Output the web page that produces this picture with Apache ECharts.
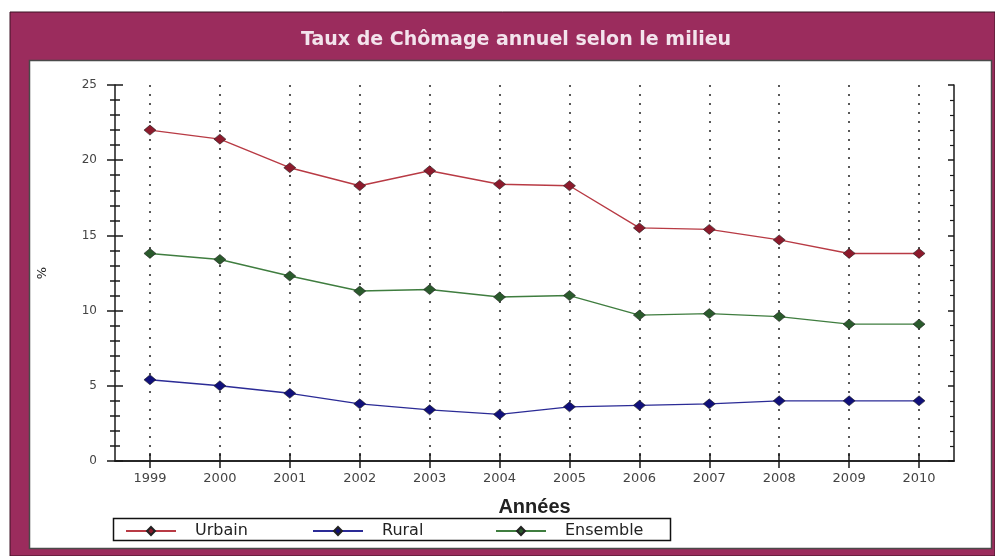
<!DOCTYPE html>
<html>
<head>
<meta charset="utf-8">
<script src="https://cdn.jsdelivr.net/npm/echarts@6/dist/echarts.min.js"></script>
<style>
  html, body { margin: 0; padding: 0; background: #ffffff; }
  #chart { width: 995px; height: 556px; }
</style>
</head>
<body>
<div id="chart"></div>
<script>
// Annual unemployment rate by area (%)
const years = ['1999', '2000', '2001', '2002', '2003', '2004', '2005', '2006', '2007', '2008', '2009', '2010'];
const urbain = [22.0, 21.4, 19.5, 18.3, 19.3, 18.4, 18.3, 15.5, 15.4, 14.7, 13.8, 13.8];
const rural = [5.4, 5.0, 4.5, 3.8, 3.4, 3.1, 3.6, 3.7, 3.8, 4.0, 4.0, 4.0];
const ensemble = [13.8, 13.4, 12.3, 11.3, 11.4, 10.9, 11.0, 9.7, 9.8, 9.6, 9.1, 9.1];
const yTicks = { min: 0, max: 25, step: 5 };

const chart = echarts.init(document.getElementById('chart'), null, { renderer: 'canvas' });

const labelFont = 'DejaVu Sans';
const axisBlack = '#1a1a1a';

function lineSeries(name, data, lineColor, markColor) {
  return {
    name: name,
    type: 'line',
    data: data,
    symbol: 'diamond',
    symbolSize: [12, 10],
    itemStyle: { color: markColor, borderColor: '#222', borderWidth: 0.6 },
    lineStyle: { color: lineColor, width: 1.4 },
    emphasis: { disabled: true },
    z: 5
  };
}

function legendFor(name, left) {
  return {
    data: [name],
    left: left,
    top: 518,
    itemWidth: 50,
    itemHeight: 10,
    selectedMode: false,
    textStyle: { fontFamily: labelFont, fontSize: 16, color: '#222', padding: [0, 0, 0, 14] }
  };
}

const option = {
  animation: false,
  backgroundColor: '#ffffff',
  title: {
    text: 'Taux de Chômage annuel selon le milieu',
    left: 511,
    top: 26,
    textAlign: 'center',
    textStyle: { fontFamily: labelFont, fontWeight: 'bold', fontSize: 19, color: '#f3e3ec' }
  },
  graphic: [
    { type: 'rect', z: -20, shape: { x: 10, y: 12, width: 985, height: 544 },
      style: { fill: '#9b2c5d', stroke: '#3d1224', lineWidth: 1 } },
    { type: 'rect', z: -19, shape: { x: 29.5, y: 60.5, width: 962, height: 488 },
      style: { fill: '#ffffff', stroke: '#4a4a4a', lineWidth: 1.5 } },
    { type: 'rect', z: 10, shape: { x: 113.5, y: 518.5, width: 557, height: 22 },
      style: { fill: 'none', stroke: '#111', lineWidth: 1.5 } }
  ],
  legend: [
    legendFor('Urbain', 120),
    legendFor('Rural', 307),
    legendFor('Ensemble', 490)
  ],
  grid: { left: 115, right: 41, top: 85, bottom: 95, containLabel: false },
  xAxis: [
    {
      type: 'category',
      position: 'bottom',
      data: years,
      boundaryGap: true,
      name: 'Années',
      nameLocation: 'middle',
      nameGap: 36,
      nameTextStyle: { fontFamily: 'Liberation Sans', fontWeight: 'bold', fontSize: 20, color: '#222' },
      axisLine: { show: true, lineStyle: { color: axisBlack, width: 1.5 } },
      axisTick: { show: true, alignWithLabel: true, interval: 0, length: 5, lineStyle: { color: axisBlack, width: 1.5 } },
      axisLabel: { interval: 0, margin: 11, fontFamily: labelFont, fontSize: 13, color: '#444' },
      splitLine: { show: true, interval: 0, alignWithLabel: true, lineStyle: { color: '#222', width: 1.5, type: [2, 7] } }
    },
    {
      type: 'category',
      position: 'bottom',
      data: years,
      boundaryGap: true,
      axisLine: { show: false },
      axisTick: { show: true, inside: true, alignWithLabel: true, interval: 0, length: 8, lineStyle: { color: axisBlack, width: 1.5 } },
      axisLabel: { show: false },
      splitLine: { show: false }
    },
    {
      type: 'category',
      position: 'top',
      data: years,
      boundaryGap: true,
      axisLine: { show: true, lineStyle: { color: axisBlack, width: 1.5 } },
      axisTick: { show: true, inside: true, alignWithLabel: true, interval: 0, length: 7, lineStyle: { color: axisBlack, width: 1.5 } },
      axisLabel: { show: false },
      splitLine: { show: false }
    }
  ],
  yAxis: [
    {
      type: 'value',
      position: 'left',
      min: yTicks.min,
      max: yTicks.max,
      interval: yTicks.step,
      name: '%',
      nameLocation: 'middle',
      nameGap: 66,
      nameRotate: 90,
      nameTextStyle: { fontFamily: labelFont, fontSize: 13, color: '#222' },
      axisLine: { show: true, lineStyle: { color: axisBlack, width: 1.5 } },
      axisTick: { show: true, length: 8, lineStyle: { color: axisBlack, width: 1.5 } },
      minorTick: { show: true, splitNumber: 5, length: 5, lineStyle: { color: axisBlack, width: 1.5 } },
      axisLabel: { margin: 18, fontFamily: labelFont, fontSize: 12, color: '#444' },
      splitLine: { show: false }
    },
    {
      type: 'value',
      position: 'left',
      min: yTicks.min,
      max: yTicks.max,
      interval: yTicks.step,
      axisLine: { show: false },
      axisTick: { show: true, inside: true, length: 8, lineStyle: { color: axisBlack, width: 1.5 } },
      minorTick: { show: true, splitNumber: 5, length: 5, lineStyle: { color: axisBlack, width: 1.5 } },
      axisLabel: { show: false },
      splitLine: { show: false }
    },
    {
      type: 'value',
      position: 'right',
      min: yTicks.min,
      max: yTicks.max,
      interval: yTicks.step,
      axisLine: { show: true, lineStyle: { color: axisBlack, width: 1.5 } },
      axisTick: { show: true, inside: true, length: 6, lineStyle: { color: axisBlack, width: 1.5 } },
      minorTick: { show: true, splitNumber: 5, length: 4, lineStyle: { color: axisBlack, width: 1.2 } },
      axisLabel: { show: false },
      splitLine: { show: false }
    }
  ],
  series: [
    lineSeries('Urbain', urbain, '#b83a44', '#8c1a2c'),
    lineSeries('Rural', rural, '#2b2b96', '#10107a'),
    lineSeries('Ensemble', ensemble, '#3f7d3f', '#2a5a2c')
  ]
};

chart.setOption(option);
</script>
</body>
</html>
